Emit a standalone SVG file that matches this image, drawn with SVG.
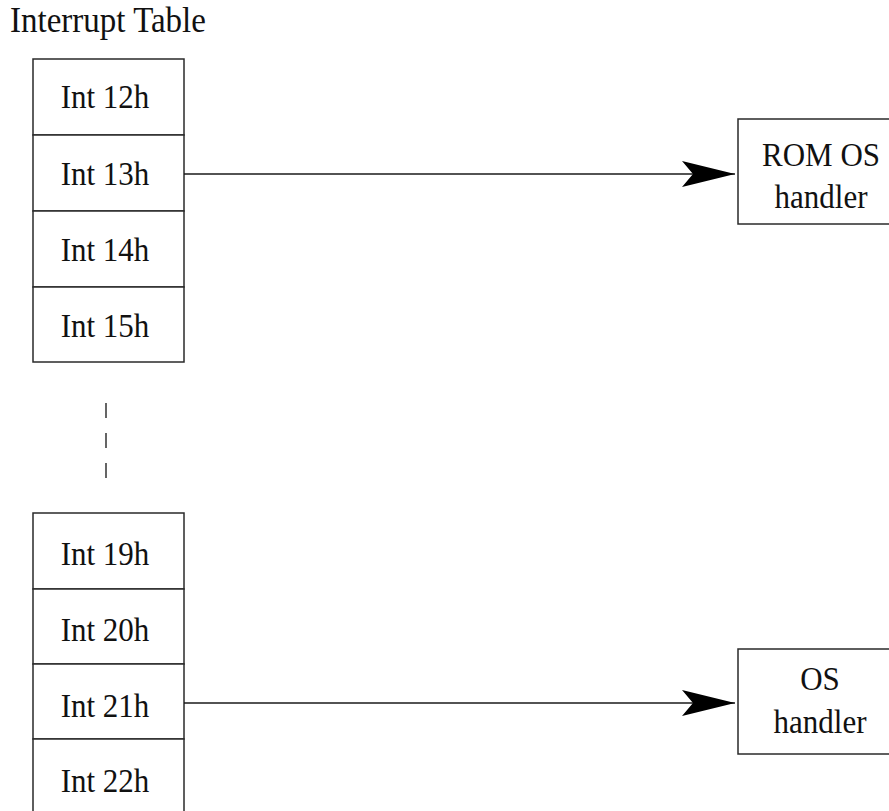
<svg xmlns="http://www.w3.org/2000/svg" width="889" height="811" viewBox="0 0 889 811">
<style>
.box{fill:#fff;stroke:#2a2a2a;stroke-width:1.5}
.t{font-family:"Liberation Serif","Times New Roman",serif;font-size:31px;fill:#111;text-anchor:middle}
.c{stroke:#1a1a1a;stroke-width:1.5;fill:none}
</style>
<defs>
<marker id="ah" markerUnits="userSpaceOnUse" markerWidth="60" markerHeight="30" refX="53" refY="13" orient="auto" viewBox="0 0 60 30">
<path d="M0,0 L53,13 L0,26 L11,13 Z" fill="#000"/>
</marker>
</defs>
<rect width="889" height="811" fill="#fff"/>
<text class="t" transform="translate(108,32) scale(1,1.08)" style="font-size:33px">Interrupt Table</text>
<g id="int12"><rect class="box" x="33" y="59" width="151" height="76"/><text class="t" transform="translate(105,108) scale(1,1.12)">Int 12h</text></g>
<g id="int13"><rect class="box" x="33" y="135" width="151" height="76"/><text class="t" transform="translate(105,185) scale(1,1.12)">Int 13h</text></g>
<g id="int14"><rect class="box" x="33" y="211" width="151" height="76"/><text class="t" transform="translate(105,261) scale(1,1.12)">Int 14h</text></g>
<g id="int15"><rect class="box" x="33" y="287" width="151" height="75"/><text class="t" transform="translate(105,337) scale(1,1.12)">Int 15h</text></g>
<g id="ellipsis"><line x1="106" y1="403" x2="106" y2="479" stroke="#333" stroke-width="1.5" stroke-dasharray="15,15"/></g>
<g id="int19"><rect class="box" x="33" y="513" width="151" height="76"/><text class="t" transform="translate(105,565) scale(1,1.12)">Int 19h</text></g>
<g id="int20"><rect class="box" x="33" y="589" width="151" height="75"/><text class="t" transform="translate(105,641) scale(1,1.12)">Int 20h</text></g>
<g id="int21"><rect class="box" x="33" y="664" width="151" height="75"/><text class="t" transform="translate(105,717) scale(1,1.12)">Int 21h</text></g>
<g id="int22"><rect class="box" x="33" y="739" width="151" height="80"/><text class="t" transform="translate(105,792) scale(1,1.12)">Int 22h</text></g>
<g id="romos"><rect class="box" x="738" y="119" width="160" height="105"/><text class="t" transform="translate(821,166) scale(1,1.1)">ROM OS</text><text class="t" transform="translate(821,208) scale(1,1.1)">handler</text></g>
<g id="os"><rect class="box" x="738" y="649" width="160" height="105"/><text class="t" transform="translate(820,690) scale(1,1.1)">OS</text><text class="t" transform="translate(820,733) scale(1,1.1)">handler</text></g>
<g id="connectors">
<line class="c" x1="184" y1="174" x2="735" y2="174" marker-end="url(#ah)"/>
<line class="c" x1="184" y1="703" x2="735" y2="703" marker-end="url(#ah)"/>
</g>
</svg>
